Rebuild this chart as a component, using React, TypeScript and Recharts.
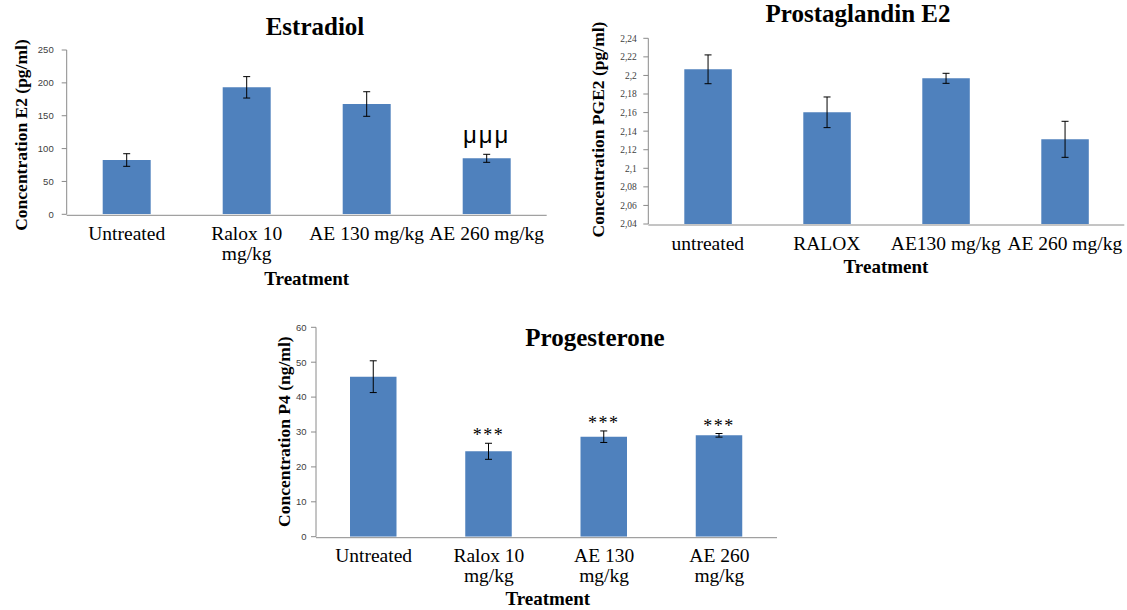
import React from "react";
import { BarChart, Bar, XAxis, YAxis, ErrorBar, LabelList } from "recharts";

// Estradiol
const e2Categories = ["Untreated", "Ralox 10\nmg/kg", "AE 130 mg/kg", "AE 260 mg/kg"];
const e2Values = [82.6, 193.2, 167.8, 85.2];
const e2Errors = [9.6, 16.3, 18.7, 6.1];
const e2Marks = ["", "", "", "μμμ"];
const e2Ticks = [0, 50, 100, 150, 200, 250];

// Prostaglandin E2
const pgCategories = ["untreated", "RALOX", "AE130 mg/kg", "AE 260 mg/kg"];
const pgValues = [2.2066, 2.1603, 2.1969, 2.1312];
const pgErrors = [0.0155, 0.0165, 0.0054, 0.0194];
const pgMarks = ["", "", "", ""];
const pgTicks = [2.04, 2.06, 2.08, 2.1, 2.12, 2.14, 2.16, 2.18, 2.2, 2.22, 2.24];

// Progesterone
const p4Categories = ["Untreated", "Ralox 10\nmg/kg", "AE 130\nmg/kg", "AE 260\nmg/kg"];
const p4Values = [45.85, 24.47, 28.65, 29.05];
const p4Errors = [4.55, 2.3, 1.65, 0.52];
const p4Marks = ["", "***", "***", "***"];
const p4Ticks = [0, 10, 20, 30, 40, 50, 60];

// category boundaries for the x-axis tick marks
const boundaryTicks = [0, 1, 2, 3, 4];

const BAR = "#4F81BD";
const AXIS = "#8a8a8a";
const SERIF = '"Liberation Serif", "Times New Roman", serif';
const SANS = '"Liberation Sans", Arial, sans-serif';

function CategoryTick(props: any) {
  const { x, y, payload } = props;
  const lines = String(payload.value).split("\n");
  return (
    <text x={x} y={y + 25.7} textAnchor="middle" fontFamily={SERIF} fontSize={19.5} fill="#000">
      {lines.map((l, i) => (
        <tspan key={i} x={x} dy={i === 0 ? 0 : 19.7}>
          {l}
        </tspan>
      ))}
    </text>
  );
}

const commaFmt = (v: number) => String(Number(v.toFixed(2))).replace(".", ",");

function Panel(props: any) {
  const {
    left, top, width, height, margin, yWidth, tickMargin, domain, ticks, fmt, tickFont,
    categories, values, errors, marks, markGap, markStyle, barSize,
    title, titlePos, xLabelPos, yLabel, yLabelPos,
  } = props;

  const data = categories.map((c: string, i: number) => ({
    name: c,
    value: values[i],
    err: errors[i],
    mark: marks[i],
  }));

  const renderMark = (p: any) => {
    const idx = p.index;
    const txt = marks[idx];
    if (!txt) return null;
    const vb = p.viewBox || p;
    const cx = vb.x + vb.width / 2;
    const pxPerUnit = vb.height / values[idx];
    const errTop = vb.y - errors[idx] * pxPerUnit;
    return (
      <text x={cx} y={errTop - markGap} textAnchor="middle" fill="#000" {...markStyle}>
        {txt}
      </text>
    );
  };

  return (
    <div style={{ position: "absolute", left, top, width, height }}>
      <BarChart width={width} height={height} data={data} margin={margin}>
        <XAxis
          xAxisId="grid"
          type="number"
          domain={[0, 4]}
          ticks={boundaryTicks}
          height={1}
          interval={0}
          tick={false}
          tickSize={6}
          axisLine={{ stroke: AXIS }}
          tickLine={{ stroke: AXIS }}
          allowDataOverflow
        />
        <XAxis
          xAxisId="cat"
          dataKey="name"
          type="category"
          height={1}
          axisLine={false}
          tickLine={false}
          tickSize={0}
          tickMargin={0}
          interval={0}
          tick={<CategoryTick />}
        />
        <YAxis
          type="number"
          domain={domain}
          ticks={ticks}
          interval={0}
          width={yWidth}
          tickSize={5}
          tickMargin={tickMargin}
          axisLine={{ stroke: AXIS }}
          tickLine={{ stroke: AXIS }}
          tick={{ fill: "#404040", fontSize: 9.5, fontFamily: tickFont }}
          tickFormatter={fmt}
          allowDataOverflow
        />
        <Bar dataKey="value" xAxisId="cat" fill={BAR} barSize={barSize} isAnimationActive={false}>
          <ErrorBar dataKey="err" width={3.5} stroke="#000" strokeWidth={1} isAnimationActive={false} />
          <LabelList dataKey="mark" content={renderMark} />
        </Bar>
      </BarChart>
      <svg
        width={width}
        height={height}
        style={{ position: "absolute", left: 0, top: 0, pointerEvents: "none" }}
      >
        <text x={titlePos[0]} y={titlePos[1]} textAnchor="middle" fontFamily={SERIF} fontWeight="bold" fontSize={25}>
          {title}
        </text>
        <text x={xLabelPos[0]} y={xLabelPos[1]} textAnchor="middle" fontFamily={SERIF} fontWeight="bold" fontSize={19}>
          Treatment
        </text>
        <text
          x={yLabelPos[0]}
          y={yLabelPos[1]}
          textAnchor="middle"
          fontFamily={SERIF}
          fontWeight="bold"
          fontSize={17.5}
          transform={`rotate(-90, ${yLabelPos[0]}, ${yLabelPos[1]})`}
        >
          {yLabel}
        </text>
      </svg>
    </div>
  );
}

export default function App() {
  return (
    <div style={{ position: "absolute", left: 0, top: 0, width: 1127, height: 610, background: "#fff", overflow: "hidden" }}>
      <Panel
        left={0}
        top={0}
        width={560}
        height={300}
        margin={{ top: 50, right: 13.3, bottom: 83.7, left: 0 }}
        yWidth={66.7}
        tickMargin={8}
        domain={[0, 250]}
        ticks={e2Ticks}
        tickFont={SANS}
        categories={e2Categories}
        values={e2Values}
        errors={e2Errors}
        marks={e2Marks}
        markGap={11}
        markStyle={{ fontFamily: SANS, fontSize: 24, letterSpacing: 2 }}
        barSize={48}
        title="Estradiol"
        titlePos={[315, 35]}
        xLabelPos={[306.7, 285]}
        yLabel="Concentration E2 (pg/ml)"
        yLabelPos={[26.5, 135]}
      />
      <Panel
        left={570}
        top={0}
        width={557}
        height={290}
        margin={{ top: 38.3, right: 2.7, bottom: 64, left: 0 }}
        yWidth={78.3}
        tickMargin={6.5}
        domain={[2.04, 2.24]}
        ticks={pgTicks}
        fmt={commaFmt}
        tickFont={SERIF}
        categories={pgCategories}
        values={pgValues}
        errors={pgErrors}
        marks={pgMarks}
        markGap={0}
        markStyle={{}}
        barSize={47.5}
        title="Prostaglandin E2"
        titlePos={[288, 22]}
        xLabelPos={[316, 273]}
        yLabel="Concentration PGE2 (pg/ml)"
        yLabelPos={[34, 129.5]}
      />
      <Panel
        left={260}
        top={310}
        width={540}
        height={300}
        margin={{ top: 17.3, right: 23, bottom: 71.3, left: 0 }}
        yWidth={56}
        tickMargin={4.5}
        domain={[0, 60]}
        ticks={p4Ticks}
        tickFont={SANS}
        categories={p4Categories}
        values={p4Values}
        errors={p4Errors}
        marks={p4Marks}
        markGap={2}
        markStyle={{ fontFamily: SERIF, fontSize: 18, letterSpacing: 1.5 }}
        barSize={46.5}
        title="Progesterone"
        titlePos={[335, 36]}
        xLabelPos={[287.8, 295]}
        yLabel="Concentration P4 (ng/ml)"
        yLabelPos={[30, 121.7]}
      />
    </div>
  );
}
